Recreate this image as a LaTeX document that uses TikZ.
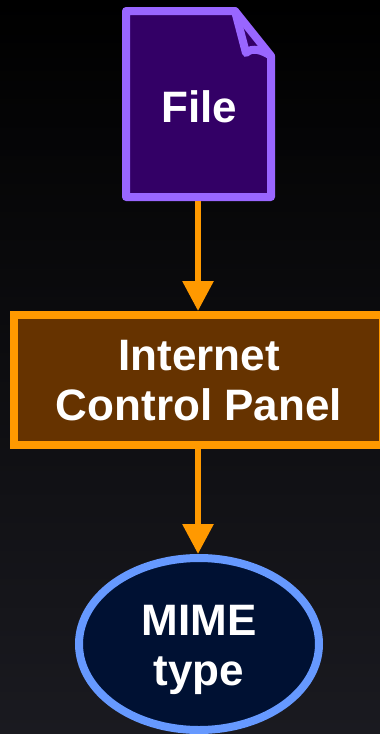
\documentclass[tikz,border=0pt]{standalone}
\usepackage{fontspec}
\setmainfont{Liberation Sans}
\usetikzlibrary{arrows.meta,shapes.geometric}
\definecolor{bgtop}{HTML}{000000}
\definecolor{bgbot}{HTML}{1A1A20}
\definecolor{purpline}{HTML}{9966FF}
\definecolor{purpfill}{HTML}{330066}
\definecolor{orline}{HTML}{FF9900}
\definecolor{orfill}{HTML}{663300}
\definecolor{blline}{HTML}{6699FF}
\definecolor{blfill}{HTML}{001133}
\tikzset{
  label text/.style={text=white,font=\fontsize{44}{50}\selectfont\bfseries,align=center,inner sep=0pt},
  connector/.style={draw=orline,line width=6pt,-{Triangle[length=30pt,width=30pt,fill=orline]}},
  filebody/.style={draw=purpline,fill=purpfill,line width=8pt,line join=round,line cap=round},
  fileframe/.style={rectangle,inner sep=0pt,outer sep=0pt,minimum width=153pt,minimum height=194pt},
  panelbox/.style={rectangle,draw=orline,fill=orfill,line width=8pt,minimum width=369pt,minimum height=130pt},
  mimeshape/.style={ellipse,draw=blline,fill=blfill,line width=8pt,minimum width=240pt,minimum height=172pt},
}
\begin{document}
\begin{tikzpicture}[x=1pt,y=-1pt]
\useasboundingbox (0,0) rectangle (380,734);
\clip (0,0) rectangle (380,734);
\shade[top color=bgtop,bottom color=bgbot] (0,0) rectangle (380,734);
% document shape
\path[filebody] (126,11) -- (235,11) -- (271,56) -- (271,197) -- (126,197) -- cycle;
\path[draw=purpline,line width=8pt,line join=round,line cap=round]
  (235,11) -- (246,53) .. controls (252,47) and (262,50) .. (271,56);
\node[fileframe,label={[label text,name=filetext,yshift=-3pt,xshift=1.5pt]center:File}] (file) at (198,104) {};
\node[panelbox,label={[label text,name=paneltext,yshift=-1pt,xshift=0.5pt]center:{Internet\\Control Panel}}] (panel) at (198.5,380) {};
\node[mimeshape,label={[label text,name=mimetext,yshift=-5.5pt]center:{MIME\\type}}] (mime) at (199,644) {};
\draw[connector] (file.south) -- (file.south |- panel.north);
\draw[connector] (file.south |- panel.south) -- (file.south |- mime.north);
\end{tikzpicture}
\end{document}
